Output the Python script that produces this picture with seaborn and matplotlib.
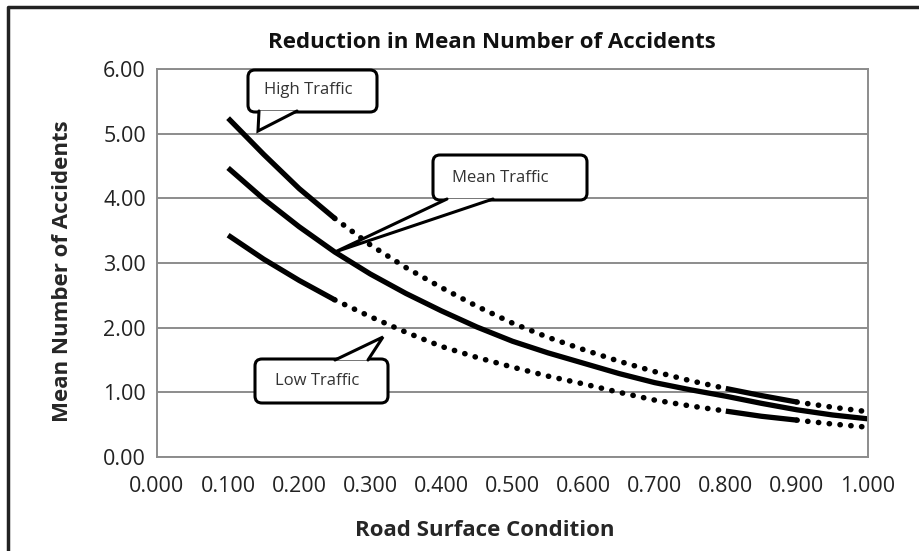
import numpy as np
import pandas as pd
import seaborn as sns
import matplotlib.pyplot as plt
import matplotlib.transforms as mtransforms
from matplotlib.patches import FancyBboxPatch, Polygon
from matplotlib.lines import Line2D

# Data (mean number of accidents vs road surface condition)
road_condition = [0.10, 0.15, 0.20, 0.25, 0.30, 0.35, 0.40, 0.45, 0.50, 0.55,
                  0.60, 0.65, 0.70, 0.75, 0.80, 0.85, 0.90, 0.95, 1.00]
high_traffic = [5.24, 4.68, 4.15, 3.69, 3.28, 2.93, 2.62, 2.33, 2.07, 1.85,
                1.66, 1.48, 1.32, 1.18, 1.06, 0.95, 0.85, 0.77, 0.70]
mean_traffic = [4.47, 3.99, 3.56, 3.17, 2.83, 2.53, 2.26, 2.01, 1.79, 1.61,
                1.45, 1.29, 1.15, 1.04, 0.94, 0.83, 0.73, 0.65, 0.59]
low_traffic = [3.43, 3.06, 2.73, 2.43, 2.17, 1.93, 1.71, 1.54, 1.39, 1.25,
               1.13, 1.00, 0.88, 0.79, 0.71, 0.63, 0.57, 0.51, 0.46]

x_ticks = [0.0, 0.1, 0.2, 0.3, 0.4, 0.5, 0.6, 0.7, 0.8, 0.9, 1.0]
y_ticks = [0, 1, 2, 3, 4, 5, 6]

# solid stretches of the high/low curves, rest is dotted
SOLID_RANGES = [(0.10, 0.25), (0.80, 0.90)]
DOTTED_RANGES = [(0.25, 0.80), (0.90, 1.00)]

W, H, DPI = 919, 551, 100
FONT = 'Open Sans'

df = pd.DataFrame({'Road Surface Condition': road_condition,
                   'High Traffic': high_traffic,
                   'Mean Traffic': mean_traffic,
                   'Low Traffic': low_traffic})

sns.set_style('white')
plt.rcParams['font.family'] = [FONT, 'DejaVu Sans']

fig = plt.figure(figsize=(W / DPI, H / DPI), dpi=DPI)
ax = fig.add_axes([157 / W, 1 - 457 / H, 711 / W, 388 / H])

X = 'Road Surface Condition'
solid_kw = dict(color='black', linewidth=3.8, solid_capstyle='butt')
dot_kw = dict(color='black', linewidth=4.0, linestyle=(0, (0.05, 1.9)),
              dash_capstyle='round')

# mean traffic: solid the whole way
sns.lineplot(data=df, x=X, y='Mean Traffic', ax=ax, **solid_kw)

for col in ['High Traffic', 'Low Traffic']:
    for lo, hi in SOLID_RANGES:
        seg = df[(df[X] >= lo - 1e-9) & (df[X] <= hi + 1e-9)]
        sns.lineplot(data=seg, x=X, y=col, ax=ax, **solid_kw)
    for lo, hi in DOTTED_RANGES:
        seg = df[(df[X] >= lo - 1e-9) & (df[X] <= hi + 1e-9)]
        sns.lineplot(data=seg, x=X, y=col, ax=ax, **dot_kw)

ax.set_xlim(0, 1)
ax.set_ylim(0, 6)
ax.set_xticks(x_ticks)
ax.set_xticklabels([f'{v:.3f}' for v in x_ticks])
ax.set_yticks(y_ticks)
ax.set_yticklabels([f'{v:.2f}' for v in y_ticks])
ax.tick_params(axis='x', length=0, pad=14, labelsize=15.5, labelcolor='#222222')
ax.tick_params(axis='y', length=0, pad=8, labelsize=15.5, labelcolor='#222222')
ax.grid(axis='y', color='#8c8c8c', linewidth=1.4)
ax.set_axisbelow(True)
for sp in ax.spines.values():
    sp.set_color('#8c8c8c')
    sp.set_linewidth(1.4)

ax.set_xlabel(X, fontsize=16, fontweight='bold', va='center')
ax.xaxis.set_label_coords((485 - 157) / 711, (457 - 530) / 388)
ax.set_ylabel('Mean Number of Accidents', fontsize=16, fontweight='bold',
              va='center')
ax.yaxis.set_label_coords((63 - 157) / 711, (457 - 271) / 388)
ax.set_title('Reduction in Mean Number of Accidents', fontsize=16,
             fontweight='bold', x=(492 - 157) / 711, y=(457 - 43) / 388,
             va='center', pad=0, color='#111111')

# pixel transform, bottom-left origin (helpers take top-left pixel coords)
pix = mtransforms.Affine2D().scale(1 / W, 1 / H) + fig.transFigure


def callout(box, tail, label, text_xy):
    x0, y0, x1, y1 = box
    patch = FancyBboxPatch((x0, H - y1), x1 - x0, y1 - y0,
                           boxstyle='round,pad=0,rounding_size=7',
                           transform=pix, facecolor='white',
                           edgecolor='black', linewidth=2.2, zorder=5)
    fig.add_artist(patch)
    pts = [(p[0], H - p[1]) for p in tail]
    fig.add_artist(Polygon(pts, closed=True, transform=pix, facecolor='white',
                           edgecolor='none', zorder=6))
    a, apex, b = pts
    fig.add_artist(Line2D([a[0], apex[0], b[0]], [a[1], apex[1], b[1]],
                          transform=pix, color='black', linewidth=2.2,
                          solid_joinstyle='miter', zorder=7))
    fig.text(text_xy[0] / W, 1 - text_xy[1] / H, label, fontsize=12,
             ha='center', va='center', color='#333333', zorder=8)


callout((248, 70, 377, 112), [(259, 111), (258, 131), (297, 111)],
        'High Traffic', (308, 90))
callout((433, 155, 587, 200), [(447, 199), (335, 252), (493, 199)],
        'Mean Traffic', (500, 178))
callout((255, 359, 388, 403), [(335, 360), (383, 337), (368, 360)],
        'Low Traffic', (317, 381))

# outer frame (left and top edges visible in the scan)
fig.add_artist(Line2D([8 / W, 8 / W, 1], [0, 1 - 7 / H, 1 - 7 / H],
                      transform=fig.transFigure, color='#222222', linewidth=2.5))

plt.savefig('out.png', dpi=DPI)
